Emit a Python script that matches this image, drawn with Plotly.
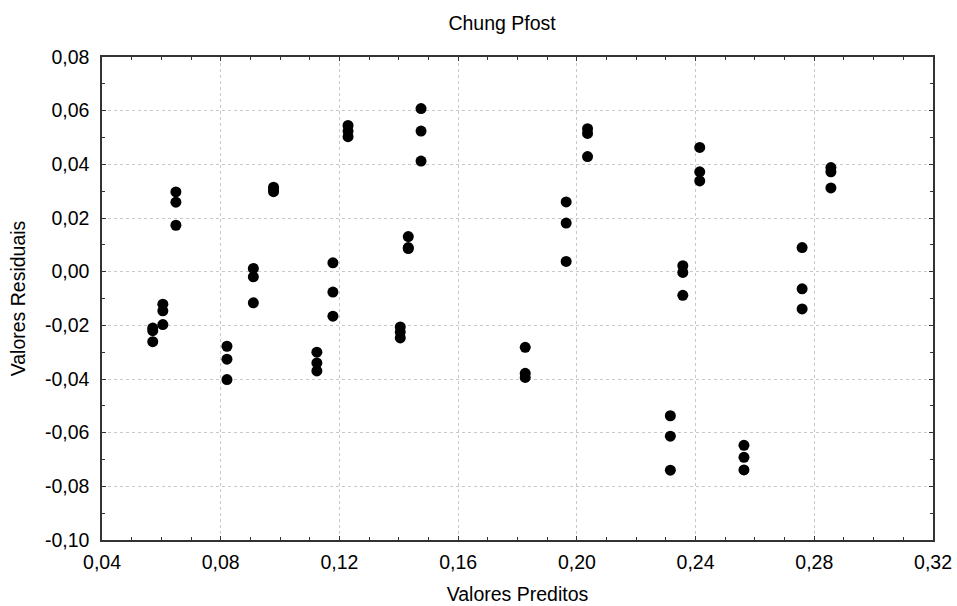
import plotly.graph_objects as go

# Predicted values (x) and residuals (y), three replicates per predicted value
predicted = [
    0.0571, 0.0571, 0.0571,
    0.0605, 0.0605, 0.0605,
    0.0649, 0.0649, 0.0649,
    0.0821, 0.0821, 0.0821,
    0.0910, 0.0910, 0.0910,
    0.0978, 0.0978, 0.0978,
    0.1124, 0.1124, 0.1124,
    0.1178, 0.1178, 0.1178,
    0.1229, 0.1229, 0.1229,
    0.1405, 0.1405, 0.1405,
    0.1432, 0.1432, 0.1432,
    0.1475, 0.1475, 0.1475,
    0.1826, 0.1826, 0.1826,
    0.1964, 0.1964, 0.1964,
    0.2036, 0.2036, 0.2036,
    0.2315, 0.2315, 0.2315,
    0.2357, 0.2357, 0.2357,
    0.2414, 0.2414, 0.2414,
    0.2563, 0.2563, 0.2563,
    0.2759, 0.2759, 0.2759,
    0.2856, 0.2856, 0.2856,
]
residuals = [
    -0.0210, -0.0220, -0.0261,
    -0.0121, -0.0146, -0.0197,
    0.0297, 0.0259, 0.0173,
    -0.0278, -0.0326, -0.0402,
    0.0012, -0.0019, -0.0116,
    0.0315, 0.0305, 0.0298,
    -0.0300, -0.0340, -0.0370,
    0.0033, -0.0076, -0.0166,
    0.0545, 0.0524, 0.0503,
    -0.0206, -0.0225, -0.0247,
    0.0131, 0.0090, 0.0086,
    0.0608, 0.0524, 0.0412,
    -0.0282, -0.0379, -0.0394,
    0.0260, 0.0181, 0.0038,
    0.0533, 0.0515, 0.0429,
    -0.0537, -0.0613, -0.0740,
    0.0022, -0.0003, -0.0088,
    0.0463, 0.0372, 0.0338,
    -0.0647, -0.0692, -0.0739,
    0.0090, -0.0064, -0.0139,
    0.0388, 0.0372, 0.0312,
]

x_tickvals = [0.04, 0.08, 0.12, 0.16, 0.20, 0.24, 0.28, 0.32]
x_ticktext = ["0,04", "0,08", "0,12", "0,16", "0,20", "0,24", "0,28", "0,32"]
y_tickvals = [-0.10, -0.08, -0.06, -0.04, -0.02, 0.00, 0.02, 0.04, 0.06, 0.08]
y_ticktext = ["-0,10", "-0,08", "-0,06", "-0,04", "-0,02", "0,00", "0,02", "0,04", "0,06", "0,08"]

FONT = "Liberation Sans, Arial, sans-serif"
FS = 19.5

fig = go.Figure()
fig.add_trace(go.Scatter(
    x=predicted, y=residuals, mode="markers",
    marker=dict(size=11, color="black", line=dict(width=0)),
    showlegend=False, cliponaxis=False,
))

axis_common = dict(
    showline=True, linecolor="#333333", linewidth=1.5, mirror="allticks",
    ticks="inside", ticklen=4, tickcolor="#333333", tickwidth=1,
    showgrid=True, gridcolor="#c8c8c8", gridwidth=1, griddash="dot",
    zeroline=False, automargin=False,
    tickfont=dict(family=FONT, size=FS, color="black"),
    minor=dict(ticks="inside", ticklen=3, tickcolor="#333333", dtick=0.01, showgrid=False),
)

fig.update_xaxes(
    range=[0.04, 0.32], tickvals=x_tickvals, ticktext=x_ticktext,
    title=dict(text="Valores Preditos", font=dict(family=FONT, size=FS, color="black"), standoff=15),
    ticklabelstandoff=4,
    **axis_common,
)
fig.update_yaxes(
    range=[-0.10, 0.08], tickvals=y_tickvals, ticktext=y_ticktext,
    title=dict(text="Valores Residuais", font=dict(family=FONT, size=FS, color="black"), standoff=14),
    ticklabelstandoff=7,
    **axis_common,
)

fig.update_layout(
    width=957, height=606,
    margin=dict(l=102, r=24, t=57, b=66, autoexpand=False),
    paper_bgcolor="white", plot_bgcolor="white",
    font=dict(family=FONT, size=FS, color="black"),
    title=dict(text="Chung Pfost", x=0.5246, xanchor="center", y=0.962, yanchor="middle",
               font=dict(family=FONT, size=FS, color="black")),
)

fig.write_html("out.html")
